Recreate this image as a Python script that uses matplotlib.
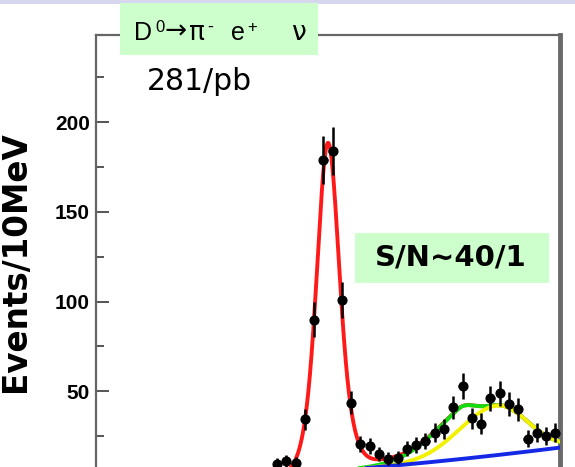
import numpy as np
import matplotlib
matplotlib.use("Agg")
import matplotlib.pyplot as plt
from matplotlib.patches import Rectangle

# ---------------- data ----------------
bin_centers = [-0.055, -0.045, -0.035, -0.025, -0.015, -0.005, 0.005, 0.015, 0.025,
               0.035, 0.045, 0.055, 0.065, 0.075, 0.085, 0.095, 0.105, 0.115, 0.125,
               0.135, 0.145, 0.155, 0.165, 0.175, 0.185, 0.195, 0.205, 0.215, 0.225,
               0.235, 0.245]
events = [9.5, 11, 10, 34.5, 90, 179, 184, 101, 43.7, 20.5, 19.6, 15, 12.5, 13, 18,
          20, 22.3, 27, 29, 41, 53, 35, 32, 46, 49, 43, 40, 23.5, 27, 25, 27]
event_err = [3.1, 3.3, 3.2, 5.9, 9.5, 13.4, 13.6, 10.0, 6.6, 4.5, 4.4, 3.9, 3.5, 3.6,
             4.2, 4.5, 4.7, 5.2, 5.4, 6.4, 7.3, 5.9, 5.7, 6.8, 7.0, 6.6, 6.3, 4.8,
             5.2, 5.0, 5.2]

# fit components: signal (two gaussians + right tail), bump 1, bump 2, smooth background
sig_amp = [95, 83, 5]
sig_sigma_left = [0.010, 0.016, 0.010]
sig_sigma_right = [0.010, 0.016, 0.050]
bump1 = dict(amp=12.0, mean=0.140, sl=0.0386, sr=0.015)
bump2 = dict(amp=27.6, mean=0.182, sl=0.040, sr=0.033)
bkg_poly = [5.5, 40.0, 50.0]

yticks_major = [50, 100, 150, 200]
yticks_minor = [25, 75, 125, 175, 225]


def agauss(x, a, m, sl, sr):
    s = np.where(x < m, sl, sr)
    return a * np.exp(-(x - m) ** 2 / (2 * s ** 2))


xs = np.linspace(-0.25, 0.25, 1500)
sig = sum(agauss(xs, a, 0.0, sl, sr) for a, sl, sr in
          zip(sig_amp, sig_sigma_left, sig_sigma_right))
blue = bkg_poly[0] + bkg_poly[1] * xs + bkg_poly[2] * xs ** 2
b1 = agauss(xs, bump1['amp'], bump1['mean'], bump1['sl'], bump1['sr'])
b2 = agauss(xs, bump2['amp'], bump2['mean'], bump2['sl'], bump2['sr'])
yellow = blue + b2
green = blue + b1 + b2
red = green + sig

W, H = 575, 467
fig = plt.figure(figsize=(W / 100, H / 100), dpi=100)
fig.patch.set_facecolor('white')

top_px, zero_px = 35, 481
ax = fig.add_axes([96 / W, (H - zero_px) / H, (560 - 96) / W, (zero_px - top_px) / H])
ax.set_xlim(-0.25, 0.25)
ax.set_ylim(0, (zero_px - top_px) / 1.794)

lw = 2.8
ax.plot(xs, red, color='#ff1a1a', lw=lw, zorder=2)
ax.plot(xs, green, color='#11dd11', lw=lw, zorder=3)
ax.plot(xs, yellow, color='#f2f200', lw=lw, zorder=4)
ax.plot(xs, blue, color='#1428e6', lw=lw, zorder=4)

ax.errorbar(bin_centers, events, yerr=event_err, xerr=0.0045, fmt='o', color='black',
            ms=6.3, elinewidth=1.8, capsize=0, zorder=6)

ax.set_yticks(yticks_major)
ax.set_yticks(yticks_minor, minor=True)
ax.set_yticklabels([str(v) for v in yticks_major], fontfamily='Liberation Sans',
                   fontweight='bold', fontsize=15)
ax.tick_params(axis='y', which='major', direction='in', length=9.5, width=1.4,
               color='#555555', pad=4.3)
ax.tick_params(axis='y', which='minor', direction='in', length=5.5, width=1.4,
               color='#555555')
ax.tick_params(axis='x', which='both', bottom=False, top=False, labelbottom=False)

for s in ['left', 'top']:
    ax.spines[s].set_color('#666666')
    ax.spines[s].set_linewidth(1.6)
ax.spines['right'].set_color('#6a6a6a')
ax.spines['right'].set_linewidth(3.5)
ax.spines['bottom'].set_visible(False)

fig.text(16 / W, 1 - 262 / H, 'Events/10MeV', rotation=90, ha='center', va='center',
         fontfamily='DejaVu Sans', fontweight='bold', fontsize=23.5)

# faint strip at the very top
fig.add_artist(Rectangle((0, 1 - 4 / H), 1, 4 / H, transform=fig.transFigure,
                         facecolor='#d6d6ee', edgecolor='none', zorder=5))

# title box
fig.add_artist(Rectangle((120 / W, 1 - 55 / H), (318 - 120) / W, (55 - 3) / H,
                         transform=fig.transFigure, facecolor='#ccffcc',
                         edgecolor='none', zorder=5))
fam = ['Liberation Sans', 'DejaVu Sans']
base = 1 - 40 / H       # baseline of the main glyphs
sup = 1 - 32 / H        # baseline of superscripts
pieces = [
    (134, base, 'D', 18, fam),
    (155, sup, '0', 12, fam),
    (165, 1 - 39 / H, '\u2192', 19, ['DejaVu Sans']),
    (189, base, '\u03c0', 19, ['DejaVu Sans']),
    (207, sup, '-', 13, fam),
    (231, base, 'e', 18, fam),
    (247, sup, '+', 12, fam),
    (292, base, '\u03bd', 19, ['DejaVu Sans']),
]
for px, py, txt, fs, ff in pieces:
    fig.text(px / W, py, txt, fontfamily=ff, fontsize=fs, va='baseline', ha='left',
             zorder=6)

fig.text(147 / W, 1 - 82 / H, '281/pb', fontfamily='DejaVu Sans', fontsize=21.5,
         va='center', ha='left', zorder=6)

# S/N box
fig.add_artist(Rectangle((355 / W, 1 - 283 / H), (549 - 355) / W, (283 - 233) / H,
                         transform=fig.transFigure, facecolor='#ccffcc',
                         edgecolor='none', zorder=5))
fig.text(451 / W, 1 - 258 / H, 'S/N~40/1', fontfamily='DejaVu Sans', fontweight='bold',
         fontsize=21, va='center', ha='center', zorder=6)

fig.savefig('out.png', dpi=100)
